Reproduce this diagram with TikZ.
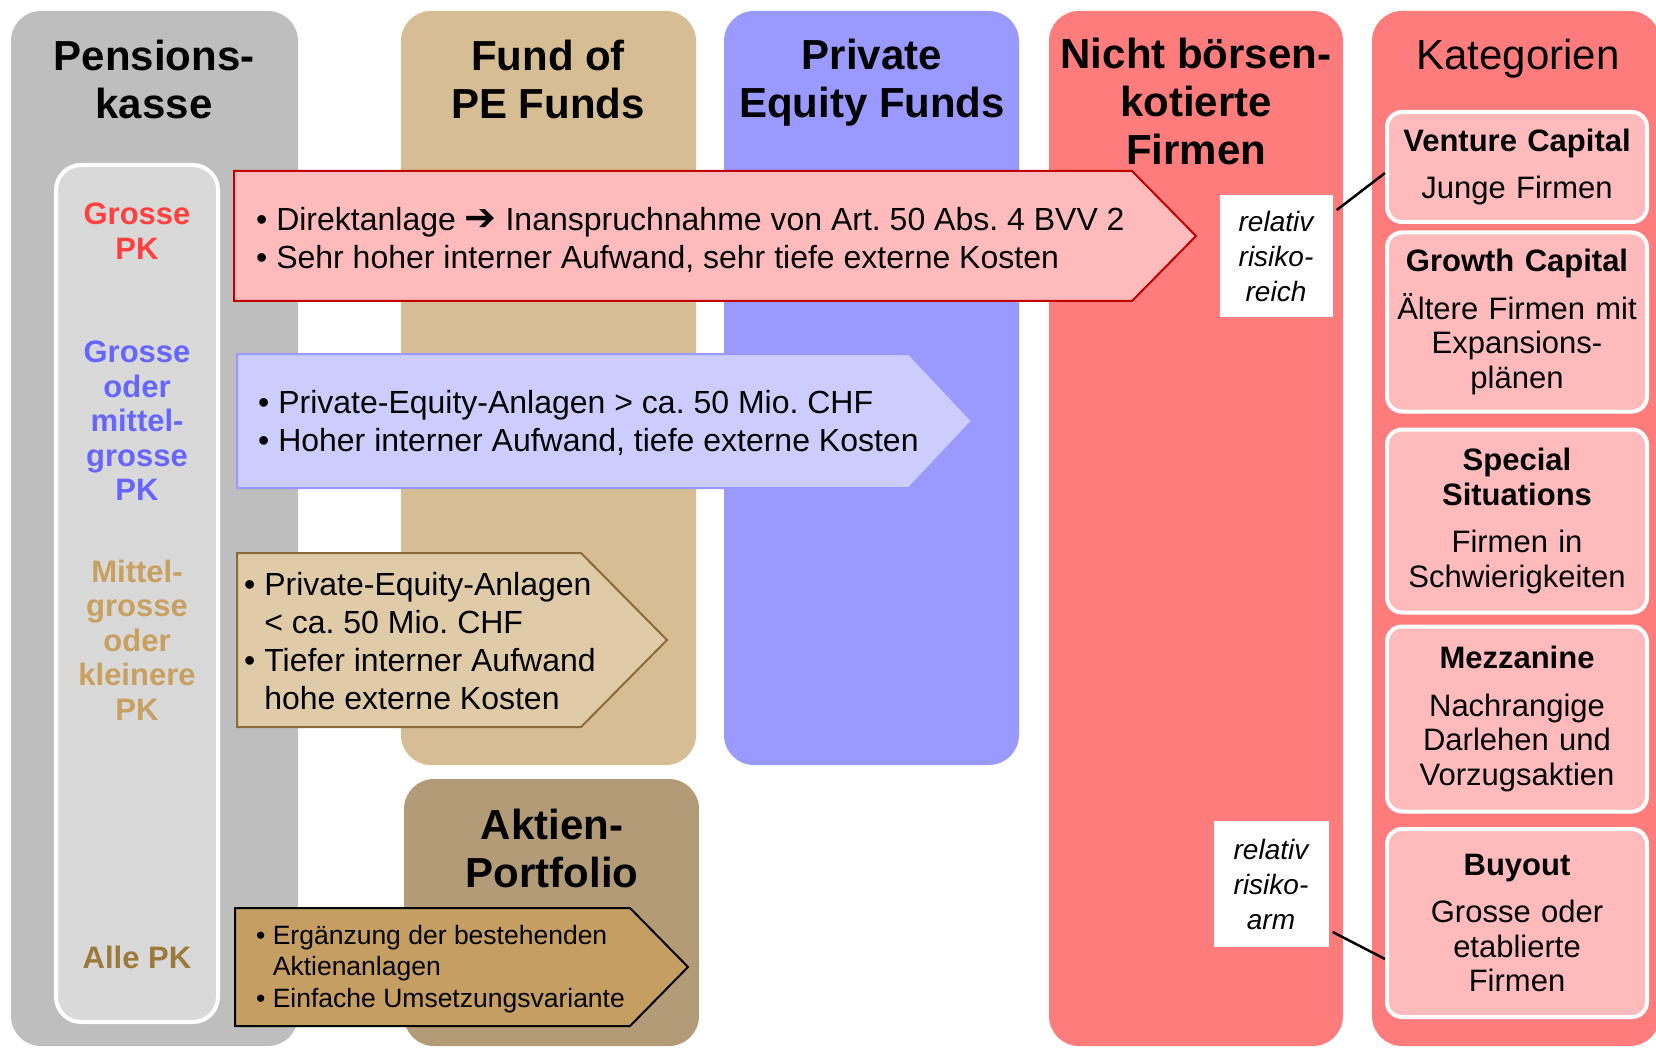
\documentclass[tikz,border=0pt]{standalone}
\usepackage{fontspec}
\setmainfont{Liberation Sans}
\newfontfamily\arrowfont{DejaVu Sans}
\usetikzlibrary{positioning}

\definecolor{pkgrey}{HTML}{BEBEBE}
\definecolor{innergrey}{HTML}{D9D9D9}
\definecolor{foftan}{HTML}{D6BD94}
\definecolor{aktienbrown}{HTML}{B49B77}
\definecolor{pefblue}{HTML}{9999FF}
\definecolor{firmred}{HTML}{FF7C7C}
\definecolor{lightred}{HTML}{FFBBBB}
\definecolor{darkred}{HTML}{C00000}
\definecolor{lightblue}{HTML}{CCCCFF}
\definecolor{lighttan}{HTML}{E0CBA8}
\definecolor{tanline}{HTML}{8B6B3A}
\definecolor{arrowbrown}{HTML}{C49E62}
\definecolor{labelred}{HTML}{FF4040}
\definecolor{labelblue}{HTML}{6666FF}
\definecolor{labeltan}{HTML}{C8A060}
\definecolor{labelbrown}{HTML}{9C7A3C}

\begin{document}
\frenchspacing
\begin{tikzpicture}[x=1pt, y=-1pt,
  column/.style={rounded corners=30pt},
  title/.style={font=\fontsize{42}{48}\selectfont\bfseries, align=center},
  pklabel/.style={font=\fontsize{31}{34.5}\selectfont\bfseries, align=center},
  info/.style={font=\fontsize{32}{38}\selectfont, align=left, anchor=west, inner sep=0pt},
  category/.style={draw=white, line width=4pt, fill=lightred, rounded corners=15pt,
    inner sep=2pt, text width=256pt, align=center, font=\fontsize{31}{34.5}\selectfont},
  risk/.style={fill=white, inner sep=0pt, align=center, font=\fontsize{28}{35}\selectfont\itshape}
]
  \useasboundingbox (0,0) rectangle (1656,1048);

  % Columns
  \fill[pkgrey, column] (11,11) rectangle (298,1046);
  \fill[foftan, column] (401,11) rectangle (696,765);
  \fill[aktienbrown, column] (404,779) rectangle (699,1046);
  \fill[pefblue, column] (724,11) rectangle (1019,765);
  \fill[firmred, column] (1049,11) rectangle (1343,1046);
  \fill[firmred, column] (1372,11) rectangle (1660,1046);
  \draw[draw=white, line width=4pt, fill=innergrey, rounded corners=25pt] (56,165) rectangle (218,1022);

  % Column titles
  \node[title] (pk) at (154,79) {Pensions-\\kasse};
  \node[title] (fof) at (548,79) {Fund of\\PE Funds};
  \node[title] (pef) at (872,83) {Private\\Equity Funds};
  \node[title] (nbf) at (1196,101) {Nicht börsen-\\kotierte\\Firmen};
  \node[title, font=\fontsize{42}{48}\selectfont] (kat) at (1518,59) {Kategorien};
  \node[title] (aktien) at (552,848) {Aktien-\\Portfolio};

  % Size of the pension fund
  \node[pklabel, text=labelred] (gross) at (137,231) {Grosse\\PK};
  \node[pklabel, text=labelblue] (mittelgross) at (137,421) {Grosse\\oder\\mittel-\\grosse\\PK};
  \node[pklabel, text=labeltan] (klein) at (137,640) {Mittel-\\grosse\\oder\\kleinere\\PK};
  \node[pklabel, text=labelbrown] (alle) at (137,957) {Alle PK};

  % Arrows
  \draw[fill=lightred, draw=darkred, line width=2pt]
    (234,171) -- (1132,171) -- (1196,236) -- (1132,301) -- (234,301) -- cycle;
  \draw[fill=lightblue, draw=pefblue, line width=2pt]
    (237,354) -- (909,354) -- (972,421) -- (909,488) -- (237,488) -- cycle;
  \draw[fill=lighttan, draw=tanline, line width=2pt]
    (237,553) -- (581,553) -- (667,640) -- (581,727) -- (237,727) -- cycle;
  \draw[fill=arrowbrown, draw=black, line width=2pt]
    (235,908) -- (630,908) -- (688,967) -- (630,1026) -- (235,1026) -- cycle;

  \node[info] (direkt) at (256,240)
    {• Direktanlage {\arrowfont\bfseries\fontsize{38}{38}\selectfont ➔} Inanspruchnahme von Art. 50 Abs. 4 BVV 2\\
     • Sehr hoher interner Aufwand, sehr tiefe externe Kosten};
  \node[info] (fonds) at (258,423)
    {• Private-Equity-Anlagen > ca. 50 Mio. CHF\\
     • Hoher interner Aufwand, tiefe externe Kosten};
  \node[info] (dachfonds) at (244,641)
    {• Private-Equity-Anlagen\\
     \phantom{•\ }< ca. 50 Mio. CHF\\
     • Tiefer interner Aufwand\\
     \phantom{•\ }hohe externe Kosten};
  \node[info, font=\fontsize{26.5}{31.5}\selectfont] (portfolio) at (256,969)
    {• Ergänzung der bestehenden\\
     \phantom{•\ }Aktienanlagen\\
     • Einfache Umsetzungsvariante};

  % Categories
  \node[category, minimum height=110pt] (vc) at (1517,167)
    {\textbf{Venture Capital}\\[13pt]Junge Firmen};
  \node[category, minimum height=179pt] (growth) at (1517,322)
    {\textbf{Growth Capital}\\[13pt]Ältere Firmen mit\\Expansions-\\plänen};
  \node[category, minimum height=183pt] (special) at (1517,521)
    {\textbf{Special}\\\textbf{Situations}\\[13pt]Firmen in\\Schwierigkeiten};
  \node[category, minimum height=185pt] (mezz) at (1517,719)
    {\textbf{Mezzanine}\\[13pt]Nachrangige\\Darlehen und\\Vorzugsaktien};
  \node[category, minimum height=188pt] (buyout) at (1517,923)
    {\textbf{Buyout}\\[13pt]Grosse oder\\etablierte\\Firmen};

  % Risk labels
  \node[risk, minimum width=113pt, minimum height=122pt] (reich) at (1276,256)
    {relativ\\risiko-\\reich};
  \node[risk, minimum width=115pt, minimum height=126pt] (arm) at (1271,884)
    {relativ\\risiko-\\arm};
  \draw[line width=2.5pt] ([shift={(4,-46)}]reich.east) -- ([yshift=-6pt]vc.west);
  \draw[line width=2.5pt] ([shift={(4,48)}]arm.east) -- ([yshift=-36pt]buyout.west);
\end{tikzpicture}
\end{document}
